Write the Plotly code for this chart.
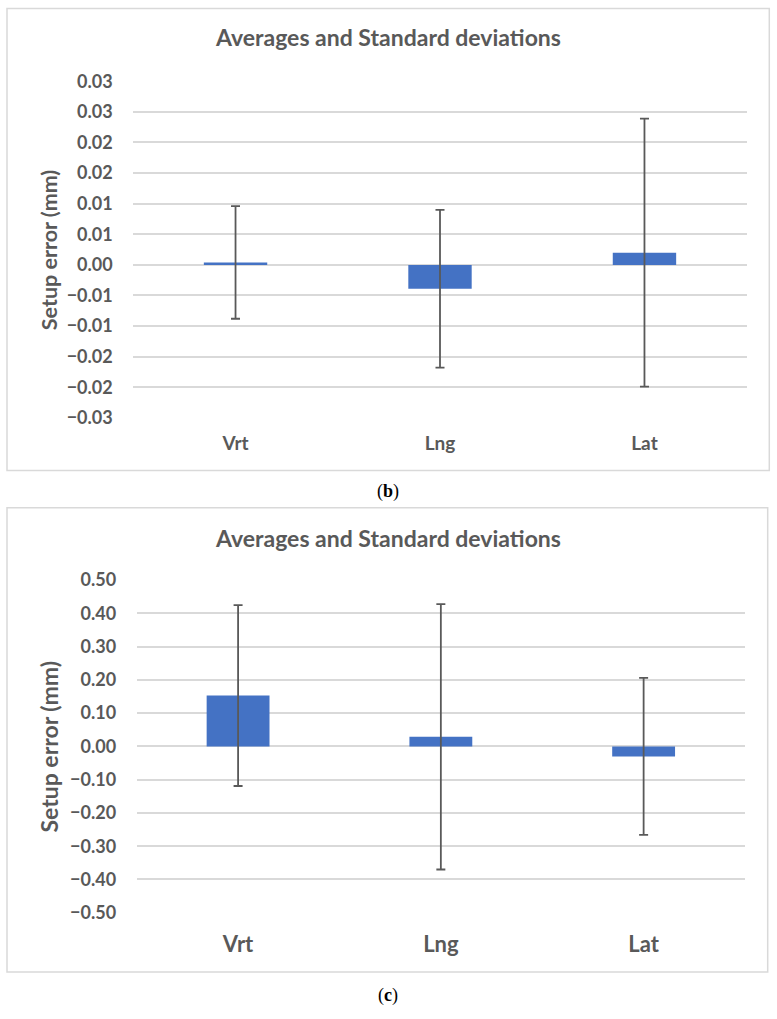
import plotly.graph_objects as go

W, H = 777, 1019

categories = ["Vrt", "Lng", "Lat"]

# Panel (b)
means_b = [0.0004, -0.0039, 0.0020]
sds_b = [0.0092, 0.0129, 0.0219]
tickvals_b = [-0.025, -0.020, -0.015, -0.010, -0.005, 0.000, 0.005, 0.010, 0.015, 0.020, 0.025, 0.030]
ticktext_b = ["−0.03", "−0.02", "−0.02", "−0.01", "−0.01", "0.00", "0.01", "0.01", "0.02", "0.02", "0.03", "0.03"]

# Panel (c)
means_c = [0.153, 0.029, -0.030]
sds_c = [0.272, 0.399, 0.236]
tickvals_c = [-0.5, -0.4, -0.3, -0.2, -0.1, 0.0, 0.1, 0.2, 0.3, 0.4, 0.5]
ticktext_c = ["−0.50", "−0.40", "−0.30", "−0.20", "−0.10", "0.00", "0.10", "0.20", "0.30", "0.40", "0.50"]

BAR = "#4472C4"
GREY = "#595959"
GRID = "#D9D9D9"
FONT = "Lato"

def px(x):
    return x / W

def py(y):
    y = (y - 10.7) / 0.9787
    return 1 - y / H

fig = go.Figure()

fig.add_trace(go.Bar(
    x=categories, y=means_b, width=0.31, marker_color=BAR, marker_line_width=0,
    error_y=dict(type="data", array=sds_b, color=GREY, thickness=1.8, width=4.5),
    xaxis="x", yaxis="y", showlegend=False,
))
fig.add_trace(go.Bar(
    x=categories, y=means_c, width=0.31, marker_color=BAR, marker_line_width=0,
    error_y=dict(type="data", array=sds_c, color=GREY, thickness=1.8, width=4.5),
    xaxis="x2", yaxis="y2", showlegend=False,
))

axis_common = dict(showline=False, fixedrange=True)

fig.update_layout(
    width=W, height=H,
    margin=dict(l=0, r=0, t=0, b=0),
    paper_bgcolor="white", plot_bgcolor="white",
    xaxis=dict(domain=[px(133.3), px(746.7)], anchor="y", showgrid=False, zeroline=False,
               ticks="outside", ticklen=8, tickcolor="rgba(0,0,0,0)",
               tickfont=dict(family=FONT, size=19, color=GREY, weight="bold"),
               **axis_common),
    yaxis=dict(domain=[py(416.7), py(80)], anchor="x", range=[-0.025, 0.030],
               tickvals=tickvals_b, ticktext=ticktext_b,
               showgrid=True, gridcolor=GRID, gridwidth=1.5,
               zeroline=True, zerolinecolor=GRID, zerolinewidth=1.5,
               ticks="outside", ticklen=16, tickcolor="rgba(0,0,0,0)",
               tickfont=dict(family=FONT, size=18, color=GREY, weight="bold"),
               **axis_common),
    xaxis2=dict(domain=[px(136.7), px(745)], anchor="y2", showgrid=False, zeroline=False,
                ticks="outside", ticklen=12, tickcolor="rgba(0,0,0,0)",
                tickfont=dict(family=FONT, size=22, color=GREY, weight="bold"),
                **axis_common),
    yaxis2=dict(domain=[py(911.7), py(579)], anchor="x2", range=[-0.5, 0.5],
                tickvals=tickvals_c, ticktext=ticktext_c,
                showgrid=True, gridcolor=GRID, gridwidth=1.5,
                zeroline=True, zerolinecolor=GRID, zerolinewidth=1.5,
                ticks="outside", ticklen=16, tickcolor="rgba(0,0,0,0)",
                tickfont=dict(family=FONT, size=18, color=GREY, weight="bold"),
                **axis_common),
)

# Outer chart borders
fig.add_shape(type="rect", xref="paper", yref="paper",
              x0=px(7), x1=px(769.3), y0=py(469.3), y1=py(7.3),
              line=dict(color=GRID, width=1.5), fillcolor="rgba(0,0,0,0)", layer="below")
fig.add_shape(type="rect", xref="paper", yref="paper",
              x0=px(7), x1=px(767.7), y0=py(971), y1=py(506.7),
              line=dict(color=GRID, width=1.5), fillcolor="rgba(0,0,0,0)", layer="below")

ann = []
for yc in (35.5, 537):
    ann.append(dict(text="<b>Averages and Standard deviations</b>", x=px(387.7), y=py(yc),
                    xref="paper", yref="paper", showarrow=False, xanchor="center", yanchor="middle",
                    font=dict(family=FONT, size=23, color=GREY)))
ann.append(dict(text="<b>Setup error (mm)</b>", x=px(49), y=py(248), xref="paper", yref="paper",
                showarrow=False, textangle=-90, xanchor="center", yanchor="middle",
                font=dict(family=FONT, size=21.5, color=GREY)))
ann.append(dict(text="<b>Setup error (mm)</b>", x=px(49), y=py(745.5), xref="paper", yref="paper",
                showarrow=False, textangle=-90, xanchor="center", yanchor="middle",
                font=dict(family=FONT, size=23, color=GREY)))
ann.append(dict(text="(<b>b</b>)", x=px(388), y=py(490), xref="paper", yref="paper",
                showarrow=False, xanchor="center", yanchor="middle",
                font=dict(family="Liberation Serif", size=18, color="black")))
ann.append(dict(text="(<b>c</b>)", x=px(388), y=py(994), xref="paper", yref="paper",
                showarrow=False, xanchor="center", yanchor="middle",
                font=dict(family="Liberation Serif", size=18, color="black")))
fig.update_layout(annotations=ann)

fig.write_html("out.html")
